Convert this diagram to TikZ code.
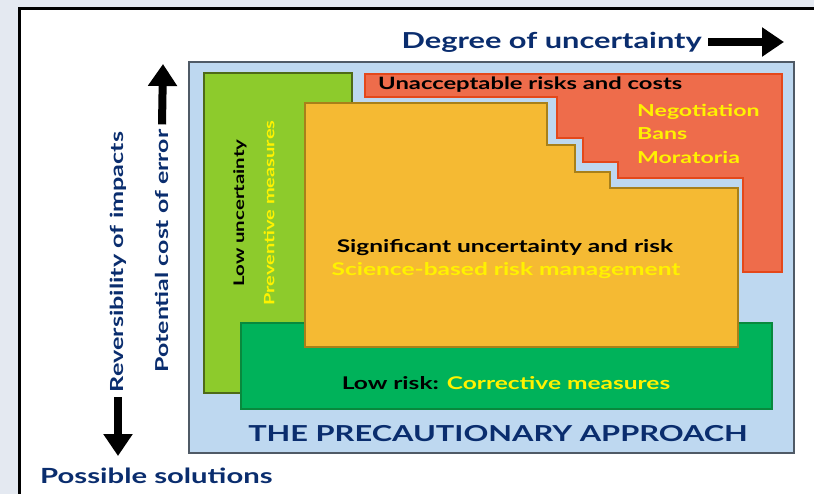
\documentclass[tikz,border=0pt]{standalone}
\usepackage{fontspec}
\setmainfont{Lato}
\newfontfamily\gill[FakeStretch=1.4]{Lato}
\usepackage{tikz}
\usetikzlibrary{arrows.meta}

\definecolor{paleback}{HTML}{E4E9F1}
\definecolor{panelblue}{HTML}{BED8F0}
\definecolor{paneledge}{HTML}{4F5A66}
\definecolor{limegreen}{HTML}{8DCB2C}
\definecolor{limeedge}{HTML}{4E6A18}
\definecolor{riskorange}{HTML}{EE6C4B}
\definecolor{orangeedge}{HTML}{E4481B}
\definecolor{sigyellow}{HTML}{F5BA33}
\definecolor{yellowedge}{HTML}{A8801A}
\definecolor{lowgreen}{HTML}{00B25A}
\definecolor{lowedge}{HTML}{08893D}
\definecolor{navytext}{HTML}{0A2D6E}
\definecolor{brightyellow}{HTML}{FFF200}

\begin{document}
\begin{tikzpicture}[x=1pt,y=-1pt,
  txt/.style={inner sep=0pt,font=\gill\bfseries\fontsize{#1}{#1}\selectfont},
  txt/.default=17.5,
  bigtxt/.style={inner sep=0pt,text=navytext,font=\gill\bfseries\fontsize{#1}{#1}\selectfont},
  bigtxt/.default=22,
  bigarrow/.style={line width=8pt,-{Triangle[width=28pt,length=22pt]}}]
\useasboundingbox (0,0) rectangle (814,494);
\clip (0,0) rectangle (814,494);
\fill[paleback] (0,0) rectangle (814,494);
\draw[line width=3pt,fill=white] (19,9) rectangle (840,520);

% panel and the four zones
\draw[line width=2.5pt,draw=paneledge,fill=panelblue] (189,62) rectangle (794,453);
\draw[line width=1.5pt,draw=limeedge,fill=limegreen] (204,73) rectangle (352,393);
\draw[line width=1.5pt,draw=orangeedge,fill=riskorange]
      (365,74) -- (782,74) -- (782,272) -- (743,272) -- (743,178) -- (618,178)
      -- (618,162) -- (583,162) -- (583,138) -- (557,138) -- (557,97) -- (365,97) -- cycle;
\draw[line width=1.5pt,draw=lowedge,fill=lowgreen] (241,323) rectangle (772,409);
\draw[line width=1.5pt,draw=yellowedge,fill=sigyellow]
      (305,103) -- (547,103) -- (547,145) -- (575,145) -- (575,172) -- (610,172)
      -- (610,188) -- (738,188) -- (738,347) -- (305,347) -- cycle;

% axis labels
\node[bigtxt,anchor=east] (degree) at (702,42) {Degree of uncertainty};
\coordinate (degtip) at (784,42);
\draw[bigarrow] ([xshift=6pt]degree.east) -- (degtip);

\node[bigtxt=17.8,rotate=90] (cost) at (162,251) {Potential cost of error};
\coordinate (costtip) at (163,64);
\draw[bigarrow] ([yshift=5pt]cost.east) -- (costtip);

\node[bigtxt=18,rotate=90] (revers) at (118,262) {Reversibility of impacts};
\coordinate (revtip) at (118,456);
\draw[bigarrow] ([yshift=-5pt]revers.west) -- (revtip);

\node[bigtxt=20.9,anchor=west] (possible) at (40,476) {Possible solutions};

% zone texts
\node[txt=17,anchor=west] (unacc) at (378,85) {Unacceptable risks and costs};
\node[txt=16.5,text=brightyellow,anchor=west] (negot) at (637,112) {Negotiation};
\node[txt=16.5,text=brightyellow,anchor=west] (bans) at (637,134) {Bans};
\node[txt=16.5,text=brightyellow,anchor=west] (morat) at (637,157) {Moratoria};

\node[txt] (signif) at (505,248) {Significant uncertainty and risk};
\node[txt,text=brightyellow] (science) at (506,271) {Science-based risk management};

\node[txt=14.6,rotate=90] (lowunc) at (240,213) {Low uncertainty};
\node[txt=14.3,rotate=90,text=brightyellow] (prevent) at (269,213) {Preventive measures};

\node[txt] (lowrisk) at (506,383) {Low risk: \textcolor{brightyellow}{Corrective measures}};

\node[bigtxt] (precaution) at (498,434) {THE PRECAUTIONARY APPROACH};
\end{tikzpicture}
\end{document}
